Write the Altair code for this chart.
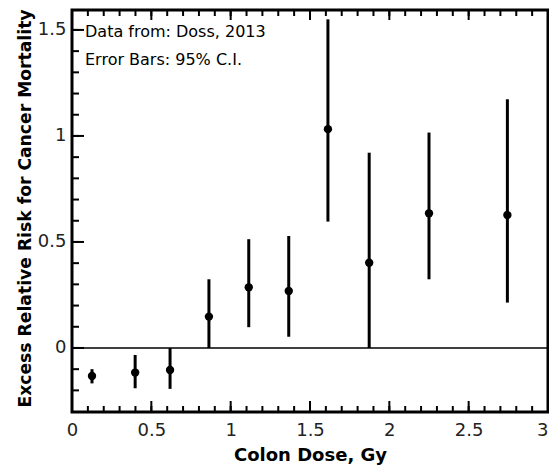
import altair as alt
import pandas as pd

# Data
dose = [0.126, 0.398, 0.618, 0.863, 1.114, 1.366, 1.613, 1.873, 2.25, 2.744]
err = [-0.132, -0.116, -0.104, 0.148, 0.286, 0.269, 1.032, 0.402, 0.635, 0.627]
ci_low = [-0.167, -0.19, -0.193, 0.0, 0.098, 0.053, 0.596, 0.0, 0.324, 0.214]
ci_high = [-0.10, -0.033, 0.0, 0.324, 0.513, 0.528, 1.55, 0.921, 1.016, 1.173]

x_major = [0, 0.5, 1, 1.5, 2, 2.5, 3]
x_minor = [round(i * 0.1, 1) for i in range(1, 30)]
y_major = [0, 0.5, 1, 1.5]
y_minor = [round(i * 0.1, 1) for i in range(-2, 16)]

notes = ["Data from: Doss, 2013", "Error Bars: 95% C.I."]
x_title = "Colon Dose, Gy"
y_title = "Excess Relative Risk for Cancer Mortality"

df = pd.DataFrame({"dose": dose, "err": err, "lo": ci_low, "hi": ci_high})

W, H = 476, 402
FONT = "DejaVu Sans"
xs = alt.Scale(domain=[0, 3], nice=False, zero=False)
ys = alt.Scale(domain=[-0.302, 1.594], nice=False, zero=False)


def tick_data(values):
    return alt.Data(values=[{"tv": float(v)} for v in values])


def x_ticks(values, length, at_top):
    yc = length / 2 if at_top else H - length / 2
    return alt.Chart(tick_data(values)).mark_tick(
        color="black", opacity=1, orient="vertical", size=length, thickness=2
    ).encode(
        x=alt.X("tv:Q", scale=xs),
        y=alt.value(yc),
    )


def y_ticks(values, length):
    return alt.Chart(tick_data(values)).mark_tick(
        color="black", opacity=1, orient="horizontal", size=length, thickness=2
    ).encode(
        y=alt.Y("tv:Q", scale=ys),
        x=alt.value(length / 2),
    )


main_x_axis = alt.Axis(
    values=x_major, format=".1~f", ticks=False, tickSize=0, domain=False, grid=False,
    labelFlush=False, labelOverlap=False,
    labelAlign=alt.expr("datum.value >= 3 ? 'right' : 'center'"),
    labelFont=FONT, labelFontSize=18, labelColor="#222", labelPadding=9,
    title=x_title, titleFont=FONT, titleFontSize=18, titleFontWeight="bold",
    titleColor="black", titleBaseline="alphabetic", titleY=48,
)
main_y_axis = alt.Axis(
    values=y_major, format=".1~f", ticks=False, tickSize=0, domain=False, grid=False,
    labelFlush=False, labelOverlap=False,
    labelFont=FONT, labelFontSize=18, labelColor="#222", labelPadding=6,
    title=y_title, titleFont=FONT, titleFontSize=17.2, titleFontWeight="bold",
    titleColor="black", titleBaseline="alphabetic", titleX=-42, titleY=198,
)

base = alt.Chart(df)
errbars = base.mark_rule(color="black", strokeWidth=3).encode(
    x=alt.X("dose:Q", scale=xs, axis=main_x_axis),
    y=alt.Y("lo:Q", scale=ys, axis=main_y_axis),
    y2="hi:Q",
)
points = base.mark_circle(color="black", opacity=1, size=70).encode(
    x=alt.X("dose:Q", scale=xs),
    y=alt.Y("err:Q", scale=ys),
)
zero = alt.Chart(alt.Data(values=[{"z": 0.0}])).mark_rule(
    color="black", strokeWidth=1.5
).encode(y=alt.Y("z:Q", scale=ys))

notes_layer = alt.Chart(
    alt.Data(values=[{"note": notes[0], "row": 0}, {"note": notes[1], "row": 1}])
).mark_text(
    font=FONT, fontSize=16, align="left", baseline="alphabetic", color="black",
    x=13, y=27, dy=0,
).encode(
    text="note:N",
    y=alt.value(27),
    yOffset=alt.YOffset("row:Q", scale=alt.Scale(domain=[0, 1], range=[0, 28])),
)

# invisible frame that fixes the page layout (autosize pad)
anchor_h = alt.Chart(alt.Data(values=[{"a": 1}])).mark_rule(strokeOpacity=0).encode(
    x=alt.value(-64), x2=alt.value(W + 1), y=alt.value(-2)
)
anchor_v = alt.Chart(alt.Data(values=[{"a": 1}])).mark_rule(strokeOpacity=0).encode(
    x=alt.value(-64), y=alt.value(-2), y2=alt.value(H + 54)
)

chart = alt.layer(
    errbars, zero, points,
    x_ticks(x_major, 11, False), x_ticks(x_minor, 6, False),
    x_ticks(x_major, 10, True), x_ticks(x_minor, 6, True),
    y_ticks(y_major, 12), y_ticks(y_minor, 7),
    notes_layer, anchor_h, anchor_v,
).properties(
    width=W, height=H, padding=0,
).configure_view(stroke="black", strokeWidth=3)

chart.save("out.html", embed_options={"renderer": "svg", "actions": False})
